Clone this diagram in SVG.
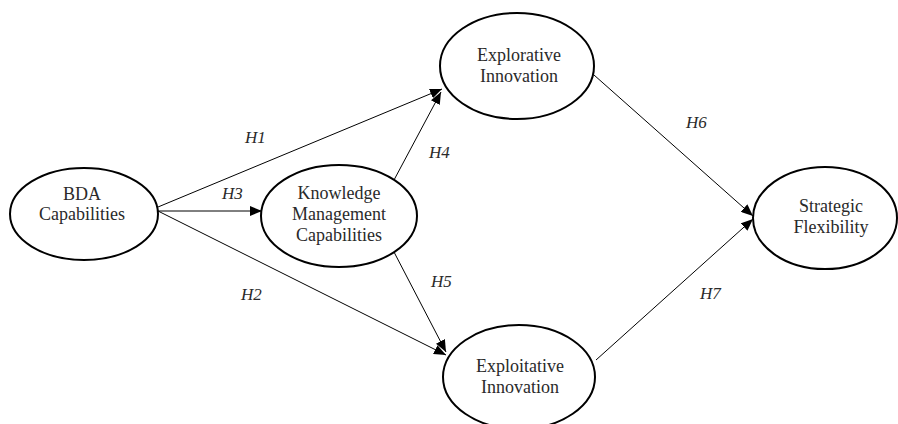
<svg xmlns="http://www.w3.org/2000/svg" width="898" height="424" viewBox="0 0 898 424">
<defs>
<marker id="ah" markerUnits="userSpaceOnUse" markerWidth="12" markerHeight="10" refX="12" refY="5" orient="auto">
<path d="M0,0 L12,5 L0,10 z" fill="#000"/>
</marker>
<style>
.node ellipse{fill:#fff;stroke:#000;stroke-width:2}
.node text{font-family:"Liberation Serif","Times New Roman",serif;font-size:18px;fill:#2a2a2a;text-anchor:middle}
.edges line{stroke:#000;stroke-width:1;marker-end:url(#ah)}
.lbl{font-family:"Liberation Serif","Times New Roman",serif;font-size:17px;font-style:italic;fill:#2a2a2a}
</style>
</defs>
<rect width="898" height="424" fill="#fff"/>
<g class="edges" id="connectors">
<line x1="158" y1="207" x2="442" y2="89"/>
<line x1="394" y1="180" x2="441" y2="92"/>
<line x1="158" y1="211" x2="262" y2="211"/>
<line x1="158" y1="211" x2="446" y2="355"/>
<line x1="394" y1="252" x2="446" y2="352"/>
<line x1="594" y1="75" x2="753" y2="216"/>
<line x1="596" y1="360" x2="753" y2="219"/>
<text class="lbl" x="245" y="143">H1</text>
<text class="lbl" x="222" y="199">H3</text>
<text class="lbl" x="429" y="158">H4</text>
<text class="lbl" x="241" y="300">H2</text>
<text class="lbl" x="431" y="287">H5</text>
<text class="lbl" x="686" y="128">H6</text>
<text class="lbl" x="700" y="299">H7</text>
</g>
<g class="node" id="bda">
<ellipse cx="84" cy="214" rx="74" ry="46"/>
<text x="82" y="200">BDA</text>
<text x="82" y="220">Capabilities</text>
</g>
<g class="node" id="km">
<ellipse cx="339" cy="216" rx="78" ry="51"/>
<text x="339" y="199">Knowledge</text>
<text x="339" y="220">Management</text>
<text x="339" y="241">Capabilities</text>
</g>
<g class="node" id="explorative">
<ellipse cx="517" cy="66" rx="77" ry="53"/>
<text x="519" y="61">Explorative</text>
<text x="519" y="82">Innovation</text>
</g>
<g class="node" id="exploitative">
<ellipse cx="519" cy="377" rx="76" ry="52"/>
<text x="520" y="372">Exploitative</text>
<text x="520" y="393">Innovation</text>
</g>
<g class="node" id="strategic">
<ellipse cx="825" cy="218" rx="72" ry="51"/>
<text x="831" y="212">Strategic</text>
<text x="831" y="233">Flexibility</text>
</g>
</svg>
